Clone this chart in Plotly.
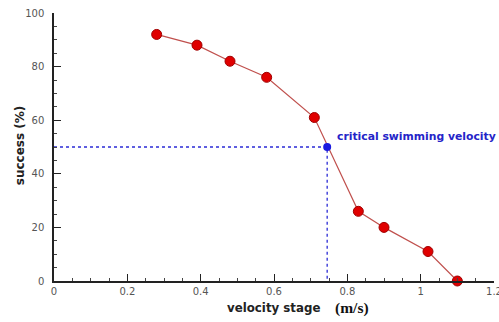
import plotly.graph_objects as go

velocity = [0.28, 0.39, 0.48, 0.58, 0.71, 0.83, 0.90, 1.02, 1.10]
success = [92, 88, 82, 76, 61, 26, 20, 11, 0]
crit_x = [0.745]
crit_y = [50]
crit_label = "critical swimming velocity"
x_title = "velocity stage"
x_unit = "(m/s)"
y_title = "success (%)"
x_ticks = [0, 0.2, 0.4, 0.6, 0.8, 1.0, 1.2]
x_tick_text = ["0", "0.2", "0.4", "0.6", "0.8", "1", "1.2"]
y_ticks = [0, 20, 40, 60, 80, 100]

SANS = "DejaVu Sans, Verdana, sans-serif"

fig = go.Figure()
# dotted guide lines
fig.add_trace(go.Scatter(x=[0, crit_x[0], crit_x[0]], y=[crit_y[0], crit_y[0], 0],
                         mode="lines", line=dict(color="#2b2bd6", width=1.3, dash="dot"),
                         hoverinfo="skip", showlegend=False, cliponaxis=False))
fig.add_trace(go.Scatter(x=velocity, y=success, mode="lines+markers",
                         line=dict(color="#c0504d", width=1.2),
                         marker=dict(color="#e00000", size=10, line=dict(color="#a00000", width=1)),
                         showlegend=False, cliponaxis=False))
fig.add_trace(go.Scatter(x=crit_x, y=crit_y, mode="markers",
                         marker=dict(color="#1a1ae0", size=8),
                         showlegend=False, cliponaxis=False))
fig.add_annotation(x=crit_x[0], y=crit_y[0], text="<b>" + crit_label + "</b>",
                   showarrow=False, xanchor="left", yanchor="middle", xshift=8, yshift=11,
                   font=dict(family=SANS, size=10.8, color="#2424c8"))
# axis titles
fig.add_annotation(xref="paper", yref="paper", x=0.608, y=0, text="<b>" + x_title + "</b>",
                   showarrow=False, xanchor="right", yanchor="middle", yshift=-27,
                   font=dict(family=SANS, size=11.8, color="#222222"))
fig.add_annotation(xref="paper", yref="paper", x=0.633, y=0, text="<b>" + x_unit + "</b>",
                   showarrow=False, xanchor="left", yanchor="middle", yshift=-27,
                   font=dict(family="Liberation Serif, Times New Roman, serif", size=15.5, color="#111111"))
fig.add_annotation(xref="paper", yref="paper", x=-0.077, y=0.507, text="<b>" + y_title + "</b>",
                   showarrow=False, xanchor="center", yanchor="middle", textangle=-90,
                   font=dict(family=SANS, size=12, color="#222222"))

axis_font = dict(family=SANS, size=10, color="#555555")
fig.update_layout(
    width=499, height=322,
    margin=dict(l=54, r=5, t=13, b=41),
    paper_bgcolor="white", plot_bgcolor="white",
    xaxis=dict(range=[0, 1.2], tickvals=x_ticks, ticktext=x_tick_text, automargin=False,
               showgrid=False, zeroline=False, showline=True, linecolor="#222222", linewidth=1.5,
               ticks="inside", ticklen=7, tickwidth=1.3, tickcolor="#222222",
               minor=dict(dtick=0.05, ticks="inside", ticklen=3, tickcolor="#444444"),
               tickfont=axis_font, ticklabeloverflow="allow"),
    yaxis=dict(range=[0, 100], tickvals=y_ticks, automargin=False,
               showgrid=False, zeroline=False, showline=True, linecolor="#222222", linewidth=1.5,
               ticks="inside", ticklen=7, tickwidth=1.3, tickcolor="#222222",
               minor=dict(dtick=5, ticks="inside", ticklen=3, tickcolor="#444444"),
               tickfont=axis_font, ticklabelstandoff=6),
)
fig.write_html("out.html")
